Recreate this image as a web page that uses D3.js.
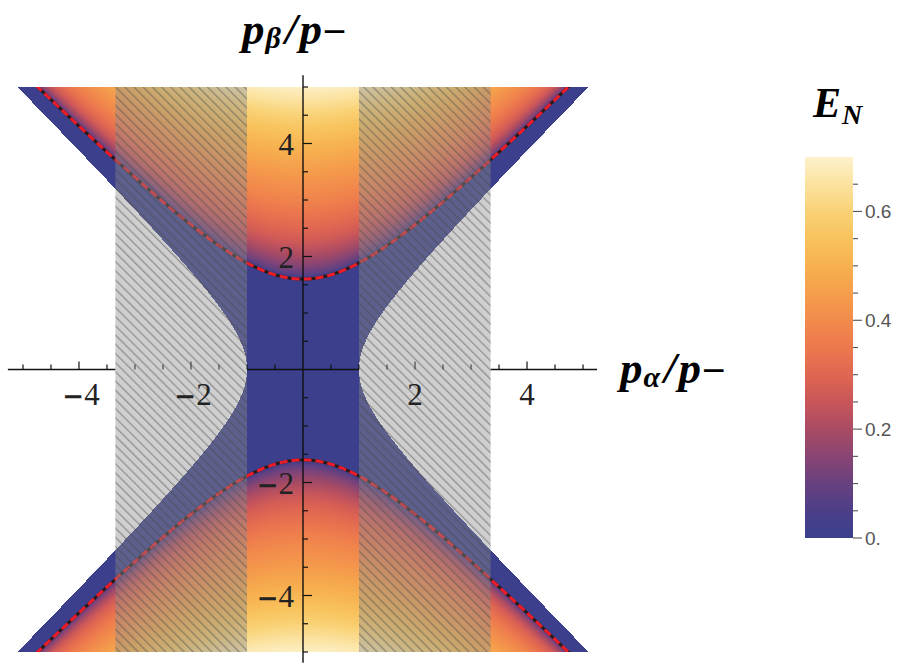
<!DOCTYPE html>
<html><head><meta charset="utf-8">
<script src="https://cdn.jsdelivr.net/npm/d3@7"></script>
<style>body{margin:0;background:#fff}svg{display:block}</style>
</head><body>
<svg id="chart" width="913" height="668"></svg>
<script>
// ---- data ----
// E_N along r = sqrt(pβ² − pα²) (value is constant along hyperbolae)
const profileR = [0, 1.6, 1.7, 1.85, 2.05, 2.3, 2.6, 3.0, 3.4, 3.9, 4.4, 4.76, 5.0, 5.3];
const profileE = [0, 0, 0.09, 0.15, 0.21, 0.27, 0.32, 0.38, 0.43, 0.5, 0.58, 0.65, 0.69, 0.7];
const contourR = 1.6;            // E_N = 0 contour (red dashed)
const domainLimit = 1;           // data exists where pα² − pβ² < 1
const bandEdges = [[-3.35, -1], [1, 3.35]]; // hatched bands
const xTickLabels = [-4, -2, 2, 4];
const yTickLabels = [-4, -2, 2, 4];
const cbTickValues = [0, 0.2, 0.4, 0.6];
const cbTickLabels = ["0.", "0.2", "0.4", "0.6"];
const cbMax = 0.7;
const colorValues = [0, 0.05, 0.1, 0.15, 0.2, 0.25, 0.3, 0.35, 0.4, 0.45, 0.5, 0.55, 0.6, 0.65, 0.7];
const colorHex = ["#3b3f8c","#4c3f88","#68417f","#894573","#aa4b64","#c9565a","#df6651","#ec784d","#f28b4c","#f59e4c","#f7b14f","#f8c25c","#f9d276","#fbe29f","#fdf2cd"];

// ---- scales ----
const svg = d3.select("#chart");
const x = d3.scaleLinear().domain([-5.08, 5.08]).range([18.5, 587.5]);
const y = d3.scaleLinear().domain([-5, 5]).range([652, 87]);
const color = d3.scaleLinear().domain(colorValues).range(colorHex).clamp(true);
const profile = d3.scaleLinear().domain(profileR).range(profileE).clamp(true);

const defs = svg.append("defs");
// hatch pattern
const pat = defs.append("pattern").attr("id","hatch").attr("patternUnits","userSpaceOnUse")
  .attr("width",6.5).attr("height",6.5).attr("patternTransform","rotate(-45)");
pat.append("rect").attr("width",6.5).attr("height",6.5).attr("fill","rgb(140,140,140)").attr("fill-opacity",0.42);
pat.append("rect").attr("x",0).attr("width",1.3).attr("height",6.5).attr("fill","rgb(70,70,70)").attr("fill-opacity",0.45);

// ---- density image ----
const x0 = Math.floor(x.range()[0]), x1 = Math.ceil(x.range()[1]);
const y0 = Math.floor(y.range()[1]), y1 = Math.ceil(y.range()[0]);
const W = x1 - x0, H = y1 - y0;
const cv = document.createElement("canvas"); cv.width = W; cv.height = H;
const ctx = cv.getContext("2d");
const img = ctx.createImageData(W, H);
for (let j = 0; j < H; j++) {
  const py = y.invert(y0 + j + 0.5);
  for (let i = 0; i < W; i++) {
    const px = x.invert(x0 + i + 0.5);
    const k = (j * W + i) * 4;
    const d = py * py - px * px;
    if (-d >= domainLimit) { img.data[k+3] = 0; continue; }
    const r = Math.sqrt(Math.max(0, d));
    const c = d3.rgb(color(profile(r)));
    img.data[k] = c.r; img.data[k+1] = c.g; img.data[k+2] = c.b; img.data[k+3] = 255;
  }
}
ctx.putImageData(img, 0, 0);
svg.append("image").attr("x", x0).attr("y", y0).attr("width", W).attr("height", H)
  .attr("href", cv.toDataURL());

// ---- contour E_N = 0 ----
const xs = d3.range(-5.08, 5.081, 0.02);
const line = d3.line().x(d => x(d[0])).y(d => y(d[1]));
defs.append("clipPath").attr("id","plotclip").append("rect")
  .attr("x", x0).attr("y", y0).attr("width", W).attr("height", H);
const cg = svg.append("g").attr("clip-path","url(#plotclip)");
[1, -1].forEach(sgn => {
  const pts = xs.map(v => [v, sgn * Math.sqrt(v * v + contourR * contourR)]);
  cg.append("path").attr("d", line(pts)).attr("fill","none").attr("stroke","#2a1a1a").attr("stroke-width",3);
  cg.append("path").attr("d", line(pts)).attr("fill","none").attr("stroke","#ee1c28").attr("stroke-width",3)
    .attr("stroke-dasharray","8,4");
});

// ---- axes ----
const axisG = svg.append("g");
const mask = defs.append("mask").attr("id","axmask").attr("maskUnits","userSpaceOnUse")
  .attr("x",0).attr("y",0).attr("width",913).attr("height",668);
mask.append("rect").attr("width",913).attr("height",668).attr("fill","#fff");
bandEdges.forEach(b => mask.append("rect").attr("x", x(b[0])).attr("width", x(b[1]) - x(b[0]))
  .attr("y", 0).attr("height", 668).attr("fill","#000"));
axisG.append("line").attr("x1", x(-5.27)).attr("x2", x(5.25)).attr("y1", y(0)).attr("y2", y(0))
  .attr("stroke","#111").attr("stroke-width",1.4).attr("mask","url(#axmask)");
axisG.append("line").attr("x1", x(0)).attr("x2", x(0)).attr("y1", y(5.21)).attr("y2", y(-5.19))
  .attr("stroke","#111").attr("stroke-width",1.4);
const tickVals = d3.range(-10, 11).map(v => v / 2).filter(v => v !== 0);
tickVals.forEach(v => {
  const major = Number.isInteger(v / 2);
  axisG.append("line").attr("x1", x(v)).attr("x2", x(v)).attr("y1", y(0)).attr("y2", y(0) - (major ? 8 : 5))
    .attr("stroke","#111").attr("stroke-width",1.2);
  axisG.append("line").attr("x1", x(0)).attr("x2", x(0) + (major ? 9 : 5)).attr("y1", y(v)).attr("y2", y(v))
    .attr("stroke","#111").attr("stroke-width",1.2);
});

// ---- hatched bands ----
bandEdges.forEach(b => svg.append("rect").attr("x", x(b[0])).attr("width", x(b[1]) - x(b[0]))
  .attr("y", y(5)).attr("height", y(-5) - y(5)).attr("fill","url(#hatch)"));

// ---- tick labels ----
const serif = "Liberation Serif, Times New Roman, DejaVu Serif, serif";
function numLabel(g, v) {
  if (v < 0) {
    g.append("tspan").attr("font-weight","bold").attr("font-family","DejaVu Sans").attr("font-size",26).text("\u2212");
    g.append("tspan").text(String(-v));
  } else g.text(String(v));
}
xTickLabels.forEach(v => {
  const t = svg.append("text").attr("x", x(v) + (v < 0 ? 2 : 0)).attr("y", y(0) + 35)
    .attr("text-anchor","middle").attr("font-family", serif).attr("font-size",31).attr("fill","#222");
  numLabel(t, v);
});
yTickLabels.forEach(v => {
  const t = svg.append("text").attr("x", x(0) - 9).attr("y", y(v) + 11)
    .attr("text-anchor","end").attr("font-family", serif).attr("font-size",31).attr("fill","#222");
  numLabel(t, v);
});

// ---- axis titles ----
function axisTitle(tx, ty, sub) {
  const t = svg.append("text").attr("x", tx).attr("y", ty).attr("font-family", serif)
    .attr("font-weight","bold").attr("font-style","italic").attr("font-size",45).attr("fill","#000")
    .attr("letter-spacing", 2);
  t.append("tspan").text("p");
  t.append("tspan").attr("font-size",30).attr("dy",4).attr("dx",-1).text(sub);
  t.append("tspan").attr("dy",-4).attr("dx",2).text("/p");
  t.append("tspan").attr("font-size",38).attr("dy",-3).attr("dx",1).attr("font-style","normal").text("\u2013");
}
axisTitle(242, 44, "\u03b2");
axisTitle(620, 383, "\u03b1");

// ---- colorbar ----
const cbx = 805, cbw = 48;
const cy = d3.scaleLinear().domain([0, cbMax]).range([538, 157]);
const grad = defs.append("linearGradient").attr("id","cbgrad").attr("x1",0).attr("x2",0).attr("y1",1).attr("y2",0);
colorValues.forEach((v, i) => grad.append("stop").attr("offset", v / cbMax).attr("stop-color", colorHex[i]));
svg.append("rect").attr("x", cbx).attr("y", cy(cbMax)).attr("width", cbw).attr("height", cy(0) - cy(cbMax))
  .attr("fill","url(#cbgrad)");
d3.range(0, 14).map(i => i * 0.05).forEach(v => {
  const major = cbTickValues.some(m => Math.abs(m - v) < 1e-6);
  svg.append("line").attr("x1", cbx + cbw).attr("x2", cbx + cbw + (major ? 9 : 5))
    .attr("y1", cy(v)).attr("y2", cy(v)).attr("stroke","#555").attr("stroke-width",1.1);
});
cbTickValues.forEach((v, i) => svg.append("text").attr("x", cbx + cbw + 12).attr("y", cy(v) + 7)
  .attr("font-family","Liberation Sans, Arial, sans-serif").attr("font-size",19).attr("fill","#555")
  .text(cbTickLabels[i]));
const et = svg.append("text").attr("x", 813).attr("y", 117).attr("font-family", serif)
  .attr("font-weight","bold").attr("font-style","italic").attr("font-size",42).attr("fill","#000");
et.append("tspan").text("E");
et.append("tspan").attr("font-size",28).attr("dy",7).attr("dx",1).text("N");
</script>
</body></html>
